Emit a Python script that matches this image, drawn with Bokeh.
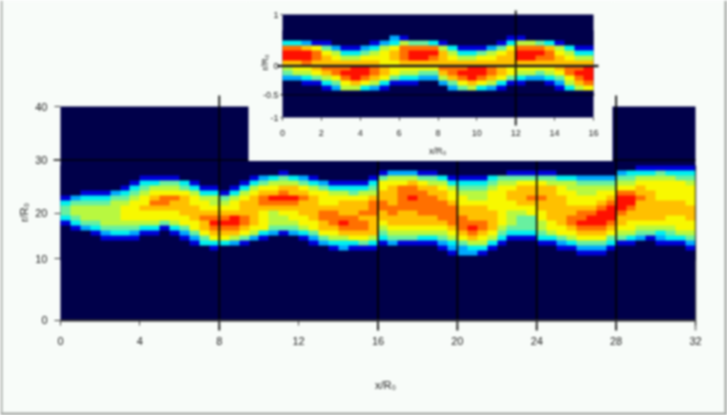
import numpy as np
from bokeh.embed import file_html
from bokeh.resources import INLINE
from bokeh.core.properties import value
from bokeh.models import Range1d, LinearAxis, FixedTicker, LinearColorMapper, BoxAnnotation
from bokeh.plotting import figure

W, H = 727, 415
PAPER = "#F8FCF9"
NAVY = "#00004A"
# colour of each level of the map
level_colors = ["#00004A", "#0000D8", "#00A8FF", "#00F0F0", "#68F0A0",
                "#B8F840", "#F8F800", "#FFC000", "#FF7000", "#FF1000"]

# main map: one string per column (left to right), one digit per row (top to bottom)
main_columns = [
"0000001344310000000","0000002455431000000","0000013455542000000","0000013455543100000",
"0000013455554210000","0000024555554310000","0000134566654310000","0001345666654210000",
"0013456676653100000","0013567876653100000","0014568876641000000","0014568776653100000",
"0003467777664210000","0001356677766421000","0000135667877643000","0000135567898763100",
"0000014567898763000","0000135667998752000","0001356777887641000","0013567777776520000",
"0024678876666310000","0035679875554200000","0145789876554100000","0035779876654200000",
"0024678777665310000","0013567777766421000","0002466678877642000","0001356678887653100",
"0001356777898753200","0001346777888763100","0001356778788764100","0013457888777753100",
"0146677887765431000","0256777788776542000","0256888887776541000","0257889887776541000",
"0146788888776531000","0145778888776531000","0035677888876542100","0013566788887653210",
"0013456677888764220","0013455677789875320","0013455677788765310","0034566667777653100",
"0045666666665431000","0145677665554310000","0146777765444310000","0146778766444310000",
"0146778776655431000","0145777777766531000","0035667777776642100","0035566677887653100",
"0024556678898764210","0024556678998764210","0024566789998764210","0024567899987643100",
"0245689998776541000","0345689987766531000","1356778777765420000","1356677777765410000",
"1456666777765321000","1356666777665431000","1346666777666531000","1345666677766542100",
]
# inset map, same coding
inset_columns = [
"0038997542000","0038997652000","0027998653100","0016887764100",
"0014677875310","0002567886420","0001357898650","0001357999750",
"0002467998630","0013567887520","0025666776310","0236776664100",
"0158887653100","0048997653100","0048997642000","0038987642000",
"0015777875200","0003567887420","0001357898640","0001357999750",
"0001467998630","0002567887520","0014677776310","0136777664100",
"0158997653100","0058997652000","0048987642000","0037887653100",
"0015677764210","0003567886530","0001357898750","0001357999860",
]

x_ticks = [0, 4, 8, 12, 16, 20, 24, 28, 32]
y_ticks = [0, 11.5, 20, 30, 40]
y_tick_labels = ["0", "10", "20", "30", "40"]
inset_x_ticks = [0, 2, 4, 6, 8, 10, 12, 14, 16]
inset_y_ticks = [-1, -0.56, 0, 1]
inset_y_tick_labels = ["-1", "-0.5", "0", "1"]
main_lines_x = [8, 16, 20, 24, 28]
main_line_y = [30]
inset_line_x = [12]
inset_line_y = [0, -0.56]

# pixel placement of the two plot areas on the page
MX0, MX1, MY0, MY1 = 60, 695, 319.5, 106
IX0, IX1, IY0, IY1 = 282, 593, 117, 14
sx, sy = (MX1 - MX0) / 32, (MY0 - MY1) / 40
isx, isy = (IX1 - IX0) / 16, (IY0 - IY1) / 2

mx = lambda px: (px - MX0) / sx
my = lambda py: (MY0 - py) / sy
ix = lambda px: (px - IX0) / isx
iy = lambda py: -1 + (IY0 - py) / isy

p = figure(width=W, height=H, output_backend="svg", toolbar_location=None,
           x_range=Range1d(mx(0), mx(W)), y_range=Range1d(my(H), my(0)),
           x_axis_location=None, y_axis_location=None,
           min_border=0, background_fill_color=PAPER, border_fill_color=PAPER,
           outline_line_color=None)
p.grid.visible = False
p.extra_x_ranges["ix"] = Range1d(ix(0), ix(W))
p.extra_y_ranges["iy"] = Range1d(iy(H), iy(0))
p.styles = {"filter": "blur(1px)"}  # the reference is a soft, low-resolution picture

mapper = LinearColorMapper(palette=level_colors, low=-0.5, high=9.5)

def matrix(cols):
    a = np.array([[int(c) for c in col] for col in cols], dtype=float).T
    return a[::-1]

# main map
p.quad(left=[0], right=[32], bottom=[0], top=[40], fill_color=NAVY, line_color=None, level="glyph")
p.image(image=[matrix(main_columns)], x=0, y=my(260), dw=32, dh=my(165) - my(260),
        color_mapper=mapper, level="glyph")
p.segment(x0=main_lines_x, x1=main_lines_x, y0=[my(330)] * 5, y1=[my(95)] * 5,
          line_color="black", line_alpha=0.85, line_width=2, level="glyph")
p.segment(x0=[32], x1=[32], y0=[my(330)], y1=[my(165)], line_color="black", line_alpha=0.4,
          line_width=2, level="glyph")
p.segment(x0=[mx(53)], x1=[32], y0=main_line_y, y1=main_line_y, line_color="black",
          line_alpha=0.85, line_width=1.5, level="glyph")

# white panel behind the inset
p.quad(left=[mx(248)], right=[mx(612)], bottom=[my(160.5)], top=[my(0)], fill_color=PAPER,
       line_color=None, level="glyph")

# inset map
kw = dict(x_range_name="ix", y_range_name="iy", level="glyph")
p.quad(left=[0], right=[16], bottom=[-1], top=[1], fill_color=NAVY, line_color=None, **kw)
p.image(image=[matrix(inset_columns)], x=0, y=iy(95), dw=16, dh=iy(30) - iy(95),
        color_mapper=mapper, **kw)
p.segment(x0=inset_line_x, x1=inset_line_x, y0=[iy(125)], y1=[iy(10)], line_color="black",
          line_alpha=0.85, line_width=2, **kw)
p.segment(x0=[ix(277)], x1=[ix(598)], y0=[0], y1=[0], line_color="#202020", line_width=2.5, **kw)
p.segment(x0=[ix(280)], x1=[ix(594)], y0=[inset_line_y[1]], y1=[inset_line_y[1]],
          line_color="black", line_alpha=0.7, line_width=1.2, **kw)

def style(ax, tick_out, standoff, size):
    ax.major_label_text_font = "Liberation Sans"
    ax.major_label_text_font_size = size
    ax.major_label_text_color = "#202020"
    ax.major_tick_line_color = "#404040"
    ax.major_tick_in = 0
    ax.major_tick_out = tick_out
    ax.minor_tick_line_color = None
    ax.major_label_standoff = standoff

# real axes, fixed at the zero of their cross range
ax = LinearAxis(ticker=FixedTicker(ticks=x_ticks), fixed_location=0, bounds=(0, 32))
style(ax, 5, 12, "11px")
ax.axis_line_color = "#303030"
ax.axis_line_width = 2
p.add_layout(ax, "below")

ay = LinearAxis(ticker=FixedTicker(ticks=y_ticks), fixed_location=0, bounds=(0, 40),
                major_label_overrides=dict(zip(y_ticks, y_tick_labels)))
style(ay, 6, 7, "11px")
ay.axis_line_color = None
p.add_layout(ay, "left")

iax = LinearAxis(ticker=FixedTicker(ticks=inset_x_ticks), fixed_location=-1, bounds=(0, 16),
                 x_range_name="ix", y_range_name="iy")
style(iax, 3, 9, "9px")
iax.axis_line_color = None
p.add_layout(iax, "below")

iay = LinearAxis(ticker=FixedTicker(ticks=inset_y_ticks), fixed_location=0, bounds=(-1, 1),
                 x_range_name="ix", y_range_name="iy",
                 major_label_overrides=dict(zip(inset_y_ticks, inset_y_tick_labels)))
style(iay, 2, 2, "9px")
iay.axis_line_color = None
p.add_layout(iay, "left")

font = value("Liberation Sans")
p.text(x=[mx(385)], y=[my(384)], text=["x/R\u2080"], text_font=font, text_font_size="11px",
       text_color="#202020", text_align="center", text_baseline="middle", level="overlay")
p.text(x=[mx(23)], y=[my(212)], text=["r/R\u2080"], angle=[np.pi / 2], text_font=font,
       text_font_size="11px", text_color="#202020", text_align="center", text_baseline="middle",
       level="overlay")
p.text(x=[mx(437)], y=[my(150)], text=["x/R\u2080"], text_font=font, text_font_size="9px",
       text_color="#202020", text_align="center", text_baseline="middle", level="overlay")
p.text(x=[mx(264)], y=[my(62)], text=["r/R\u2080"], angle=[np.pi / 2], text_font=font,
       text_font_size="9px", text_color="#202020", text_align="center", text_baseline="middle",
       level="overlay")

# grey frame of the picture
for box in (dict(left=0, right=W, top=0, bottom=3), dict(left=0, right=2, top=0, bottom=H),
            dict(left=W - 3, right=W, top=0, bottom=H)):
    p.add_layout(BoxAnnotation(left_units="screen", right_units="screen", top_units="screen",
                               bottom_units="screen", fill_color="#A8ACA8", fill_alpha=1,
                               line_color=None, **box))

open("out.html", "w").write(file_html(p, INLINE))
